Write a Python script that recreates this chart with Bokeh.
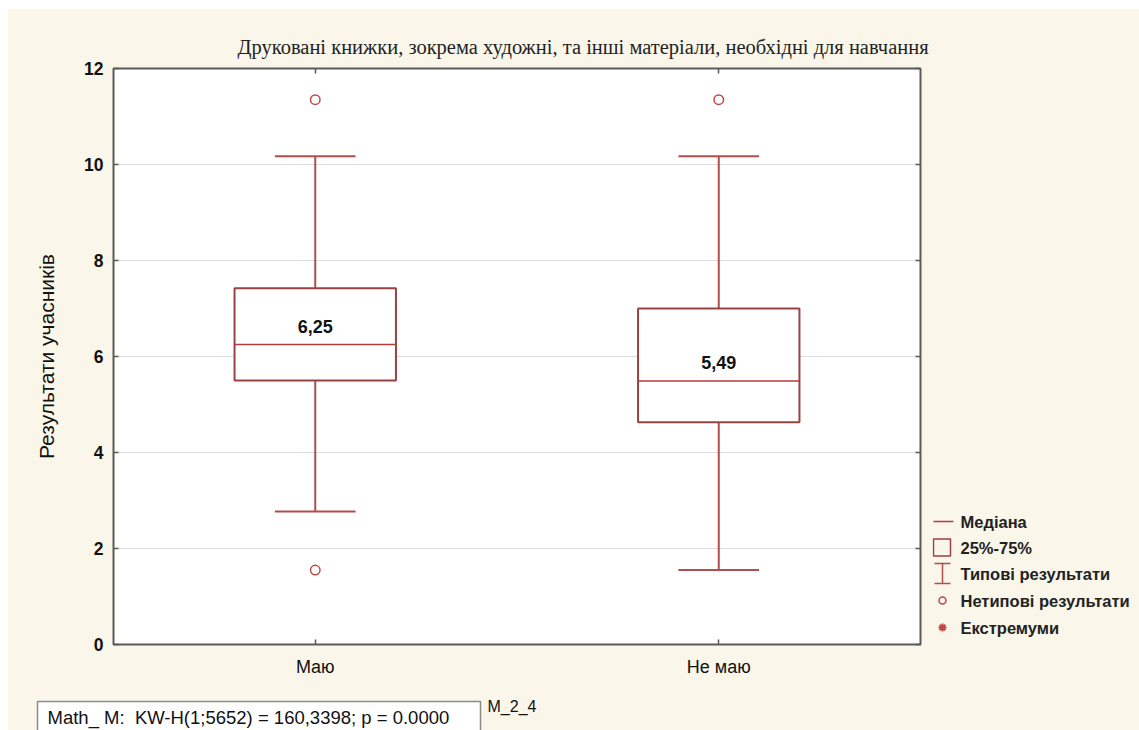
from bokeh.plotting import figure
from bokeh.models import Range1d, FixedTicker, LinearAxis, ColumnDataSource, Spacer
from bokeh.layouts import row, column
from bokeh.core.properties import value
from bokeh.embed import file_html
from bokeh.resources import INLINE

# ---- data ----
categories = ["Маю", "Не маю"]
medians = [6.25, 5.49]
q1 = [5.50, 4.63]
q3 = [7.42, 7.00]
whisker_low = [2.77, 1.55]
whisker_high = [10.17, 10.17]
outlier_group = ["Маю", "Маю", "Не маю"]
outlier_value = [11.35, 1.55, 11.35]
y_ticks = [0, 2, 4, 6, 8, 10, 12]

title_text = "Друковані книжки, зокрема художні, та інші матеріали, необхідні для навчання"
y_label = "Результати учасників"
legend_labels = ["Медіана", "25%-75%", "Типові результати", "Нетипові результати", "Екстремуми"]
stats_text = "Math_ M:\u00a0\u00a0KW-H(1;5652) = 160,3398; p = 0.0000"
var_name = "M_2_4"

# ---- styling ----
CREAM = "#faf6ea"
BOX_C = "#9a4242"
WHISK_C = "#b34d4d"
MED_C = "#b83a3a"
OUT_C = "#c04848"
SANS = "Liberation Sans"

xpos = [i + 0.5 for i in range(len(categories))]
pos_of = dict(zip(categories, xpos))
half_box = 0.2
half_cap = 0.1

src = ColumnDataSource(dict(
    x=xpos,
    left=[x - half_box for x in xpos],
    right=[x + half_box for x in xpos],
    cl=[x - half_cap for x in xpos],
    cr=[x + half_cap for x in xpos],
    med=medians, q1=q1, q3=q3, lo=whisker_low, hi=whisker_high,
    lab=[f"{m:.2f}".replace(".", ",") for m in medians],
))
osrc = ColumnDataSource(dict(x=[pos_of[g] for g in outlier_group], y=outlier_value))

# page geometry (page pixels): content starts at (8, 9)
MAIN_W, MAIN_H = 924, 681
LEG_W = 1139 - 8 - MAIN_W
BOT_H = 730 - 9 - MAIN_H
B_TOP, B_BOT = 59, 46
FRAME_TOP, FRAME_BOT = 9 + B_TOP, 9 + MAIN_H - B_BOT

p = figure(width=MAIN_W, height=MAIN_H, x_range=Range1d(0, 2), y_range=Range1d(0, 12),
           output_backend="svg", toolbar_location=None,
           min_border_left=105, min_border_right=12, min_border_top=B_TOP, min_border_bottom=B_BOT,
           x_axis_location=None, y_axis_location=None)
p.title.text = title_text
p.title.align = "left"
p.title.offset = 124
p.title.standoff = 22
p.title.text_font = "Liberation Serif"
p.title.text_font_size = "20.5px"
p.title.text_font_style = "normal"
p.title.text_color = "#222222"
p.background_fill_color = "white"
p.border_fill_color = CREAM
p.outline_line_color = "#5a5a5a"
p.outline_line_width = 2
p.xgrid.visible = False
p.ygrid.grid_line_color = "#dcdcdc"
p.ygrid.ticker = FixedTicker(ticks=y_ticks)

def mk_axis(kind, labels=True):
    ax = LinearAxis()
    if kind == "y":
        ax.ticker = FixedTicker(ticks=y_ticks)
    else:
        ax.ticker = FixedTicker(ticks=xpos)
        ax.major_label_overrides = {x: c for x, c in zip(xpos, categories)}
    ax.major_tick_in = 5
    ax.major_tick_out = 0
    ax.major_tick_line_color = "#5a5a5a"
    ax.major_tick_line_width = 1.5
    ax.minor_tick_line_color = None
    ax.axis_line_color = None
    ax.major_label_text_font = SANS
    ax.major_label_text_font_size = "18px"
    ax.major_label_text_color = "#111111"
    if not labels:
        ax.major_label_text_color = None
        ax.major_label_text_font_size = "1px"
        ax.major_label_standoff = 0
    return ax

yl = mk_axis("y")
yl.major_label_text_font_style = "bold"
yl.major_label_text_font_size = "17.5px"
yl.major_label_standoff = 10
yl.axis_label = y_label
yl.axis_label_text_font = SANS
yl.axis_label_text_font_style = "normal"
yl.axis_label_text_font_size = "21px"
yl.axis_label_text_color = "#111111"
yl.axis_label_standoff = 23
p.add_layout(yl, "left")
p.add_layout(mk_axis("y", False), "right")
xb = mk_axis("x")
xb.major_label_standoff = 12
p.add_layout(xb, "below")
p.add_layout(mk_axis("x", False), "above")

# whiskers
p.segment(x0="x", y0="q3", x1="x", y1="hi", source=src, line_color=WHISK_C, line_width=2)
p.segment(x0="x", y0="lo", x1="x", y1="q1", source=src, line_color=WHISK_C, line_width=2)
p.segment(x0="cl", y0="hi", x1="cr", y1="hi", source=src, line_color=WHISK_C, line_width=2)
p.segment(x0="cl", y0="lo", x1="cr", y1="lo", source=src, line_color=WHISK_C, line_width=2)
# boxes
p.quad(left="left", right="right", bottom="q1", top="q3", source=src,
       fill_color="white", line_color=BOX_C, line_width=2)
# medians
p.segment(x0="left", y0="med", x1="right", y1="med", source=src, line_color=MED_C, line_width=1.5)
p.text(x="x", y="med", text="lab", source=src, text_align="center", text_baseline="middle",
       y_offset=-18, text_font=value(SANS), text_font_size="18px", text_font_style="bold",
       text_color="#111111")
# outliers
p.scatter(x="x", y="y", source=osrc, marker="circle", size=9.5, fill_color="white",
          line_color=OUT_C, line_width=1.5)

# ---- legend panel (coordinates = page pixels) ----
LX0 = 8 + MAIN_W
leg = figure(width=LEG_W, height=MAIN_H, x_range=Range1d(LX0, 1139),
             y_range=Range1d(FRAME_BOT, FRAME_TOP),
             output_backend="svg", toolbar_location=None,
             min_border_left=0, min_border_right=0, min_border_top=B_TOP, min_border_bottom=B_BOT,
             x_axis_location=None, y_axis_location=None)
leg.background_fill_color = CREAM
leg.border_fill_color = CREAM
leg.outline_line_color = None
leg.grid.visible = False

rows_y = [521, 547, 573, 600, 627]
sym_x = 942
leg.segment(x0=[933], y0=[rows_y[0]], x1=[953], y1=[rows_y[0]], line_color=MED_C, line_width=1.5)
leg.quad(left=[933], right=[950], top=[rows_y[1] - 8.5], bottom=[rows_y[1] + 8.5],
         fill_color=None, line_color=BOX_C, line_width=1.5)
leg.segment(x0=[sym_x, 934, 934], y0=[rows_y[2] - 10, rows_y[2] - 10, rows_y[2] + 10],
            x1=[sym_x, 950, 950], y1=[rows_y[2] + 10, rows_y[2] - 10, rows_y[2] + 10],
            line_color=WHISK_C, line_width=1.5)
leg.scatter(x=[sym_x], y=[rows_y[3]], marker="circle", size=7, fill_color=CREAM,
            line_color=OUT_C, line_width=1.5)
leg.scatter(x=[sym_x], y=[rows_y[4]], marker="asterisk", size=8, line_color=OUT_C, line_width=2)
leg.text(x=[960] * len(legend_labels), y=rows_y, text=legend_labels, text_baseline="middle",
         text_align="left", text_font=value(SANS), text_font_size="16.5px", text_font_style="bold",
         text_color="#222222")

# ---- bottom strip with the test statistic ----
bot = figure(width=1139 - 8, height=BOT_H, x_range=Range1d(8, 1139), y_range=Range1d(730, 9 + MAIN_H),
             output_backend="svg", toolbar_location=None, min_border=0,
             x_axis_location=None, y_axis_location=None)
bot.background_fill_color = CREAM
bot.border_fill_color = CREAM
bot.outline_line_color = None
bot.grid.visible = False
bot.quad(left=[37], right=[480], top=[701], bottom=[740], fill_color="white",
         line_color="#8a8a8a", line_width=1.5)
bot.text(x=[47], y=[717], text=[stats_text], text_baseline="middle", text_align="left",
         text_font=value(SANS), text_font_size="18.5px", text_color="#111111")
bot.text(x=[487], y=[706], text=[var_name], text_baseline="middle", text_align="left",
         text_font=value(SANS), text_font_size="16px", text_color="#111111")

inner = column(row(p, leg, styles={"background-color": CREAM}), bot,
               styles={"background-color": CREAM})
layout = column(Spacer(width=1139, height=9),
                row(Spacer(width=8, height=730 - 9), inner))

open("out.html", "w").write(file_html(layout, INLINE))
